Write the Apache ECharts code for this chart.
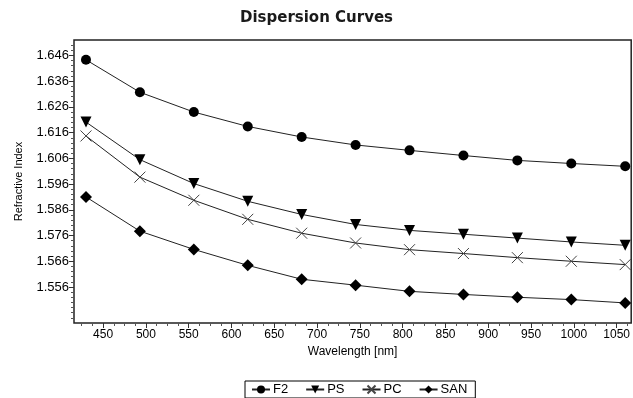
<!DOCTYPE html>
<html>
<head>
<meta charset="utf-8">
<script src="https://cdn.jsdelivr.net/npm/echarts@6/dist/echarts.min.js"></script>
<style>
  html, body { margin: 0; padding: 0; background: #fff; }
  #chart-wrapper { width: 633px; height: 398px; }
</style>
</head>
<body>
<div id="chart-wrapper"></div>
<script>
// wavelengths in nm
const wavelengths = [430, 493, 556, 619, 682, 745, 808, 871, 934, 997, 1060];
const f2 = [1.6443, 1.6317, 1.6240, 1.6184, 1.6143, 1.6112, 1.6091, 1.6071, 1.6052, 1.6040, 1.6029];
const ps = [1.6201, 1.6055, 1.5962, 1.5893, 1.5842, 1.5803, 1.5780, 1.5765, 1.5750, 1.5735, 1.5722];
const pc = [1.6147, 1.5987, 1.5897, 1.5823, 1.5769, 1.5731, 1.5705, 1.5690, 1.5674, 1.5660, 1.5647];
const san = [1.5910, 1.5777, 1.5706, 1.5644, 1.5590, 1.5567, 1.5543, 1.5531, 1.5520, 1.5511, 1.5498];

const xTicks = [450, 500, 550, 600, 650, 700, 750, 800, 850, 900, 950, 1000, 1050];
const yTicks = [1.556, 1.566, 1.576, 1.586, 1.596, 1.606, 1.616, 1.626, 1.636, 1.646];

const FONT = "Liberation Sans";
const lineColor = "#222";

// minor tick positions (between the labelled ones)
const xMinor = [];
for (let v = 425; v < 1067; v += 12.5) {
  if (v % 50 !== 0) xMinor.push(v);
}
const yMinor = [];
for (let i = 772; i <= 825; i++) {
  const v = +(i * 0.002).toFixed(3);
  if (!yTicks.includes(v)) yMinor.push(v);
}

const toPairs = (vals) => vals.map((v, i) => [wavelengths[i], v]);

const mkSeries = (name, vals, symbol, size, extra) => {
  return Object.assign({
    name: name,
    type: "line",
    data: toPairs(vals),
    symbol: symbol,
    symbolSize: size,
    showAllSymbol: true,
    lineStyle: { color: lineColor, width: 1 },
    itemStyle: { color: "#000" },
    emphasis: { disabled: true },
    animation: false,
  }, extra || {});
};

const chartDom = document.getElementById("chart-wrapper");
const chart = echarts.init(chartDom, null, { renderer: "canvas" });

const option = {
  backgroundColor: "#fff",
  animation: false,
  textStyle: { fontFamily: FONT, color: "#000" },
  title: {
    text: "Dispersion Curves",
    left: "center",
    top: 6,
    textStyle: { fontFamily: "DejaVu Sans", fontSize: 15, fontWeight: 600, color: "#1a1a1a" },
  },
  grid: {
    left: 74,
    top: 40,
    right: 0,
    bottom: 75,
    show: true,
    borderColor: "#222",
    borderWidth: 1.5,
    backgroundColor: "#fff",
  },
  legend: {
    left: 245,
    top: 381,
    orient: "horizontal",
    padding: [2, 8, 2, 6],
    itemGap: 17,
    itemWidth: 18,
    itemHeight: 10,
    borderColor: "#000",
    borderWidth: 1,
    borderRadius: 0,
    textStyle: { fontFamily: FONT, fontSize: 13, color: "#000", padding: [0, 0, 0, -2] },
    data: ["F2", "PS", "PC", "SAN"],
  },
  xAxis: [
    {
      type: "value",
      min: 416,
      max: 1067,
      name: "Wavelength [nm]",
      nameLocation: "middle",
      nameGap: 23,
      nameTextStyle: { fontFamily: FONT, fontSize: 12, color: "#000" },
      axisLine: { show: false },
      axisTick: { show: true, length: 5, customValues: xTicks, lineStyle: { color: "#333" } },
      axisLabel: {
        customValues: xTicks,
        fontSize: 12,
        color: "#000",
        margin: 6,
        fontFamily: FONT,
        formatter: (v) => String(v),
      },
      splitLine: { show: false },
    },
    {
      type: "value",
      min: 416,
      max: 1067,
      position: "bottom",
      axisLine: { show: false },
      axisTick: { show: true, length: 3, customValues: xMinor, lineStyle: { color: "#555" } },
      axisLabel: { show: false },
      splitLine: { show: false },
    },
  ],
  yAxis: [
    {
      type: "value",
      min: 1.542,
      max: 1.652,
      name: "Refractive Index",
      nameLocation: "middle",
      nameGap: 50,
      nameTextStyle: { fontFamily: FONT, fontSize: 11, color: "#000" },
      axisLine: { show: false },
      axisTick: { show: true, length: 5, customValues: yTicks, lineStyle: { color: "#333" } },
      axisLabel: {
        customValues: yTicks,
        fontSize: 13,
        color: "#000",
        margin: 5,
        fontFamily: FONT,
        formatter: (v) => v.toFixed(3),
      },
      splitLine: { show: false },
    },
    {
      type: "value",
      min: 1.542,
      max: 1.652,
      position: "left",
      axisLine: { show: false },
      axisTick: { show: true, length: 3, customValues: yMinor, lineStyle: { color: "#555" } },
      axisLabel: { show: false },
      splitLine: { show: false },
    },
  ],
  series: [
    mkSeries("F2", f2, "circle", 10),
    mkSeries("PS", ps, "triangle", 11, { symbolRotate: 180 }),
    mkSeries("PC", pc, "path://M0,0L10,10M10,0L0,10", 11, {
      itemStyle: { color: "none", borderColor: "#444", borderWidth: 1 },
    }),
    mkSeries("SAN", san, "diamond", 12),
  ],
};

chart.setOption(option);
</script>
</body>
</html>
